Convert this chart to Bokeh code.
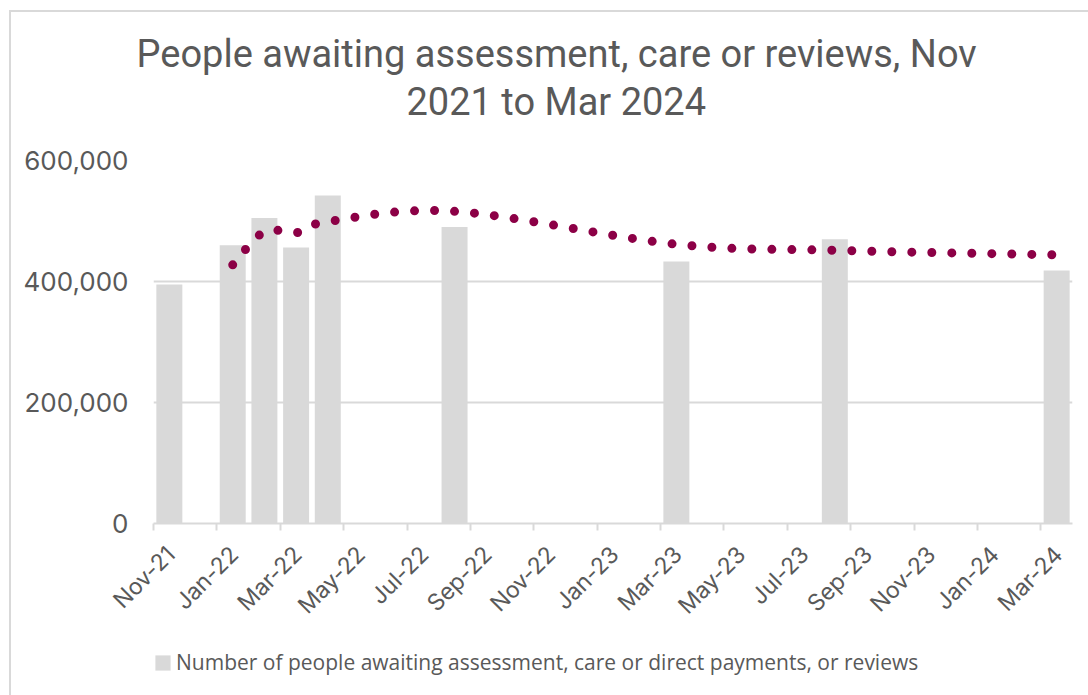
import math

import numpy as np
import pandas as pd
from bokeh.embed import file_html
from bokeh.layouts import column
from bokeh.models import (ColumnDataSource, FixedTicker, Legend, LegendItem,
                          NumeralTickFormatter, Range1d, Title)
from bokeh.plotting import figure
from bokeh.resources import INLINE

# ---- data -------------------------------------------------------------
survey_months = ["Nov-21", "Jan-22", "Feb-22", "Mar-22", "Apr-22",
                 "Aug-22", "Mar-23", "Aug-23", "Mar-24"]
people_waiting = [395000, 460000, 505000, 456000, 542000,
                  490000, 433000, 470000, 418000]

axis_start = "Nov-21"
axis_end = "Apr-24"          # the date axis runs up to the start of this month
tick_labels = ["Nov-21", "Jan-22", "Mar-22", "May-22", "Jul-22", "Sep-22",
               "Nov-22", "Jan-23", "Mar-23", "May-23", "Jul-23", "Sep-23",
               "Nov-23", "Jan-24", "Mar-24"]
y_ticks = [0, 200000, 400000, 600000]
y_max = 600000

title_lines = ["People awaiting assessment, care or reviews, Nov",
               "2021 to Mar 2024"]
series_name = ("Number of people awaiting assessment, care or direct "
               "payments, or reviews")

# ---- styling ----------------------------------------------------------
GREY_TEXT = "#595959"
GREY_LINE = "#D9D9D9"
BAR_FILL = "#D9D9D9"
TREND = "#8C0046"
FRAME_W, FRAME_H = 917, 361
LEFT, TOP, RIGHT, BOTTOM = 142, 148, 18, 115
FULL_W = LEFT + FRAME_W + RIGHT
KEY_H = 59
LABEL_SHIFT = 0.55           # month labels sit a little right of their tick


def month_index(label):
    start = pd.Period(pd.to_datetime(axis_start, format="%b-%y"), "M")
    p = pd.Period(pd.to_datetime(label, format="%b-%y"), "M")
    return (p - start).n


n_months = month_index(axis_end)
bar_x = [month_index(m) + 0.5 for m in survey_months]
tick_idx = [month_index(m) for m in tick_labels]

# two-period moving average over consecutive survey points
vals = np.array(people_waiting, dtype=float)
ma_x = np.array(bar_x[1:])
ma_y = (vals[1:] + vals[:-1]) / 2.0


def smooth(xs, ys, steps=40):
    """Catmull-Rom style Bezier smoothing done in on-screen proportions."""
    kx = FRAME_W / n_months
    ky = FRAME_H / y_max
    pts = np.column_stack([xs * kx, ys * ky])
    ext = np.vstack([pts[0], pts, pts[-1]])
    out = [pts[0]]
    t = np.linspace(0, 1, steps)[1:, None]
    for i in range(len(pts) - 1):
        p0, p1, p2, p3 = ext[i], ext[i + 1], ext[i + 2], ext[i + 3]
        c1 = p1 + (p2 - p0) / 6.0
        c2 = p2 - (p3 - p1) / 6.0
        seg = ((1 - t) ** 3) * p1 + 3 * ((1 - t) ** 2) * t * c1 \
            + 3 * (1 - t) * t ** 2 * c2 + t ** 3 * p2
        out.extend(seg)
    out = np.array(out)
    return out[:, 0] / kx, out[:, 1] / ky


trend_x, trend_y = smooth(ma_x, ma_y)

# ---- main chart -------------------------------------------------------
p = figure(frame_width=FRAME_W, frame_height=FRAME_H,
           x_range=Range1d(0, n_months), y_range=Range1d(0, y_max),
           output_backend="svg", toolbar_location=None,
           min_border_left=LEFT, min_border_right=RIGHT,
           min_border_top=TOP, min_border_bottom=BOTTOM,
           margin=(10, 0, 0, 9),
           styles={"border-top": "2px solid #d9d9d9",
                   "border-left": "2px solid #d9d9d9"})
p.outline_line_color = None
p.background_fill_color = "white"
p.border_fill_color = "white"

src = ColumnDataSource(dict(x=bar_x, y=people_waiting, m=survey_months))
p.vbar(x="x", top="y", width=0.82, source=src,
       fill_color=BAR_FILL, line_color=None)

p.line(trend_x, trend_y, line_color=TREND, line_width=9,
       line_dash="0 20", line_cap="round")

# y axis
p.yaxis.ticker = FixedTicker(ticks=y_ticks)
p.yaxis.formatter = NumeralTickFormatter(format="0,0")
p.yaxis.axis_line_color = None
p.yaxis.major_tick_line_color = None
p.yaxis.minor_tick_line_color = None
p.yaxis.major_label_standoff = 19
p.yaxis.major_label_text_font = "Inter"
p.yaxis.major_label_text_font_size = "26px"
p.yaxis.major_label_text_color = GREY_TEXT

p.ygrid.ticker = FixedTicker(ticks=y_ticks)
p.ygrid.grid_line_color = GREY_LINE
p.ygrid.grid_line_width = 2
p.xgrid.grid_line_color = None

# x axis: tick marks at every other month, labels rotated
label_pos = [i + LABEL_SHIFT for i in tick_idx]
p.xaxis.ticker = FixedTicker(ticks=label_pos, minor_ticks=tick_idx)
p.xaxis.major_label_overrides = {pos: lab for pos, lab in zip(label_pos, tick_labels)}
p.xaxis.axis_line_color = GREY_LINE
p.xaxis.axis_line_width = 2
p.xaxis.major_tick_line_color = None
p.xaxis.major_tick_out = 0
p.xaxis.major_tick_in = 0
p.xaxis.minor_tick_line_color = GREY_LINE
p.xaxis.minor_tick_line_width = 2
p.xaxis.minor_tick_out = 7
p.xaxis.minor_tick_in = 0
p.xaxis.major_label_orientation = math.pi / 4
p.xaxis.major_label_standoff = 20
p.xaxis.major_label_text_font = "Inter"
p.xaxis.major_label_text_font_size = "23px"
p.xaxis.major_label_text_color = GREY_TEXT

# title: a blank spacer next to the plot, then the two title lines
p.add_layout(Title(text=" ", text_font_size="10px", standoff=23), "above")
for text, off in zip(reversed(title_lines), [253, -17]):
    p.add_layout(Title(text=text, align="left", offset=off,
                       text_font="Roboto", text_font_size="38px",
                       text_font_style="normal", text_color=GREY_TEXT,
                       standoff=2), "above")

# ---- key strip under the chart ----------------------------------------
key = figure(width=FULL_W, height=KEY_H, x_range=Range1d(0, 1),
             y_range=Range1d(0, 1), output_backend="svg",
             toolbar_location=None, x_axis_location=None,
             y_axis_location=None, min_border=0,
             margin=(0, 0, 0, 9),
             styles={"border-left": "2px solid #d9d9d9"})
key.outline_line_color = None
key.grid.grid_line_color = None
key.background_fill_color = "white"
key.border_fill_color = "white"

# one hidden bar carries the swatch style for the key
swatch_src = ColumnDataSource(dict(x=bar_x[:1], y=people_waiting[:1]))
swatch = key.vbar(x="x", top="y", width=0.5, source=swatch_src,
                  fill_color=BAR_FILL, line_color=None)
swatch.visible = False

legend = Legend(items=[LegendItem(label=series_name, renderers=[swatch])],
                location=(0, 19), orientation="horizontal",
                glyph_width=19, glyph_height=19, label_standoff=4,
                padding=0, margin=0, border_line_color=None,
                background_fill_alpha=0, inactive_fill_alpha=0,
                label_text_font="Open Sans", label_text_font_size="21px",
                label_text_color=GREY_TEXT)
key.add_layout(legend)

page = column(p, key, spacing=0)
open("out.html", "w").write(file_html(page, INLINE))
